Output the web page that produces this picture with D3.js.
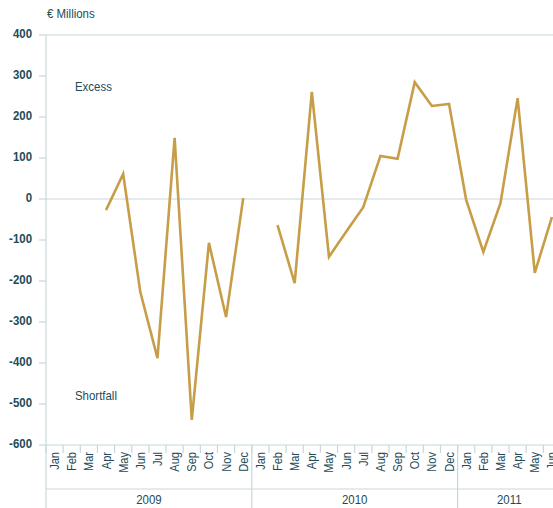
<!DOCTYPE html>
<html>
<head>
<meta charset="utf-8">
<script src="https://cdn.jsdelivr.net/npm/d3@7"></script>
<style>
  body { margin: 0; background: #fff; }
  text { font-family: "Liberation Sans Narrow", "Arial Narrow", "Liberation Sans", sans-serif; fill: #1d4b57; }
</style>
</head>
<body>
<div class="draw"></div>
<script>
const width = 553;
const height = 508;

const years = ["2009", "2010", "2011"]
const months = [
  "2009-Jan","2009-Feb","2009-Mar","2009-Apr","2009-May","2009-Jun","2009-Jul","2009-Aug","2009-Sep","2009-Oct","2009-Nov","2009-Dec",
  "2010-Jan","2010-Feb","2010-Mar","2010-Apr","2010-May","2010-Jun","2010-Jul","2010-Aug","2010-Sep","2010-Oct","2010-Nov","2010-Dec",
  "2011-Jan","2011-Feb","2011-Mar","2011-Apr","2011-May","2011-Jun"
]
// null = no value for that month
const values = [
  null, null, null, -27, 61, -227, -388, 149, -539, -107, -288, 2,
  null, -64, -205, 261, -141, -80, -20, 105, 98, 285, 227, 232,
  -2, -129, -10, 246, -180, -44
]
const yTicks = [400, 300, 200, 100, 0, -100, -200, -300, -400, -500, -600]

const plotLeft = 46, plotTop = 35, plotBottom = 445
const band = 17.15

const axisColor = "#c9d7dc"
const lineColor = "#c79d48"

let svg = d3.select("div.draw")
    .append("svg")
    .attr("width", width)
    .attr("height", height)

let x = d3.scaleBand()
    .domain(months)
    .range([plotLeft, plotLeft + band * months.length])

let y = d3.scaleLinear()
    .domain([-600, 400])
    .range([plotBottom, plotTop])

// horizontal guide lines at top and zero
svg.selectAll("line.grid")
  .data([400, 0])
  .enter()
  .append("line")
  .attr("x1", plotLeft).attr("x2", width)
  .attr("y1", d => y(d)).attr("y2", d => y(d))
  .style("stroke", axisColor)
  .style("stroke-width", 1.2)

// y axis
svg.append("line")
  .attr("x1", plotLeft).attr("x2", plotLeft)
  .attr("y1", plotTop).attr("y2", height)
  .style("stroke", axisColor)
  .style("stroke-width", 1.2)

svg.selectAll("line.ytick")
  .data(yTicks)
  .enter()
  .append("line")
  .attr("x1", plotLeft - 7).attr("x2", plotLeft)
  .attr("y1", d => y(d)).attr("y2", d => y(d))
  .style("stroke", axisColor)
  .style("stroke-width", 1.2)

svg.selectAll("text.ylab")
  .data(yTicks)
  .enter()
  .append("text")
  .attr("transform", d => "translate(32," + y(d) + ") scale(0.88,1)")
  .attr("text-anchor", "end")
  .attr("dominant-baseline", "middle")
  .style("font-size", "13px")
  .style("font-weight", "bold")
  .text(d => d)

svg.append("text")
  .attr("transform", "translate(47,18) scale(0.88,1)")
  .style("font-size", "13px")
  .text("€ Millions")

// x axis
svg.append("line")
  .attr("x1", plotLeft).attr("x2", width)
  .attr("y1", plotBottom).attr("y2", plotBottom)
  .style("stroke", axisColor)
  .style("stroke-width", 1.2)

svg.append("line")
  .attr("x1", plotLeft).attr("x2", width)
  .attr("y1", 489).attr("y2", 489)
  .style("stroke", axisColor)
  .style("stroke-width", 1.2)

svg.selectAll("line.xtick")
  .data(months)
  .enter()
  .append("line")
  .attr("x1", d => x(d)).attr("x2", d => x(d))
  .attr("y1", plotBottom).attr("y2", plotBottom + 8)
  .style("stroke", axisColor)
  .style("stroke-width", 1.2)

svg.selectAll("text.month")
  .data(months)
  .enter()
  .append("text")
  .attr("transform", d => "translate(" + (x(d) + band / 2 + 4.5) + "," + 452 + ") rotate(-90) scale(0.85,1)")
  .attr("text-anchor", "end")
  .style("font-size", "13px")
  .text(d => d.split("-")[1])

// year separators and labels
let yearStart = yr => x(yr + "-Jan")
let yearEnd = (yr, i) => i < years.length - 1 ? x(years[i + 1] + "-Jan") : x.range()[1]

svg.selectAll("line.year")
  .data(years.slice(1))
  .enter()
  .append("line")
  .attr("x1", d => yearStart(d)).attr("x2", d => yearStart(d))
  .attr("y1", plotBottom).attr("y2", height)
  .style("stroke", axisColor)
  .style("stroke-width", 1.2)

svg.selectAll("text.year")
  .data(years)
  .enter()
  .append("text")
  .attr("transform", (d, i) => {
    let cx = i < years.length - 1 ? (yearStart(d) + yearEnd(d, i)) / 2 : (yearStart(d) + width) / 2 + 4
    return "translate(" + cx + ",504) scale(0.88,1)"
  })
  .attr("text-anchor", "middle")
  .style("font-size", "13px")
  .text(d => d)

// labels
svg.append("text")
  .attr("transform", "translate(75,91) scale(0.88,1)")
  .style("font-size", "13px")
  .text("Excess")

svg.append("text")
  .attr("transform", "translate(75,400) scale(0.88,1)")
  .style("font-size", "13px")
  .text("Shortfall")

// line
let points = months.map((m, i) => ({ m: m, v: values[i] }))
let line = d3.line()
  .defined(d => d.v !== null)
  .x(d => x(d.m) + band / 2)
  .y(d => y(d.v))

svg.append("path")
  .datum(points)
  .attr("d", line)
  .style("fill", "none")
  .style("stroke", lineColor)
  .style("stroke-width", 2.6)
</script>
</body>
</html>
